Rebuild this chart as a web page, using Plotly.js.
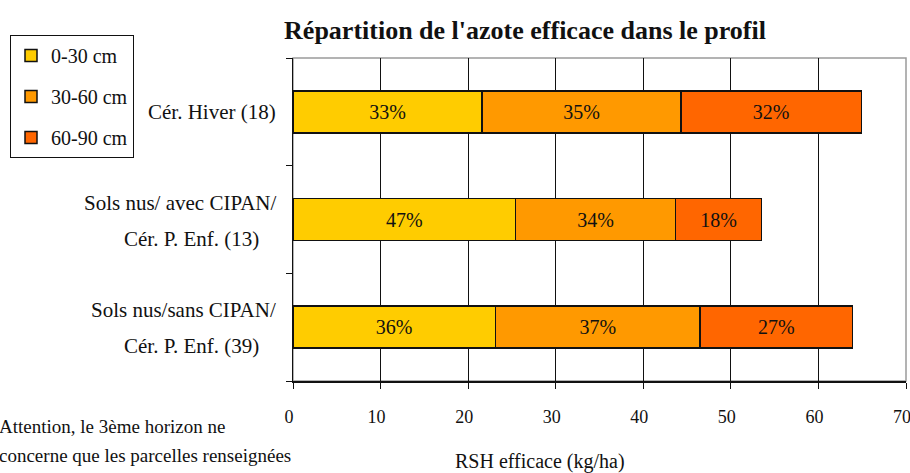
<!DOCTYPE html>
<html>
<head>
<meta charset="utf-8">
<script src="https://cdn.plot.ly/plotly-3.0.1.min.js"></script>
<style>html,body{margin:0;padding:0;background:#fff;}#chart{width:910px;height:473px;}</style>
</head>
<body>
<div id="chart"></div>
<script>
// Categories listed bottom to top
const categories = [
  "Sols nus/sans CIPAN/<br>Cér. P. Enf. (39)",
  "Sols nus/ avec CIPAN/<br>Cér. P. Enf. (13)",
  "Cér. Hiver (18)"
];
const seriesNames = ["0-30 cm", "30-60 cm", "60-90 cm"];
const values_0_30  = [23.1, 25.4, 21.6];
const values_30_60 = [23.4, 18.3, 22.7];
const values_60_90 = [17.4, 9.8, 20.6];
const labels_0_30  = ["36%", "47%", "33%"];
const labels_30_60 = ["37%", "34%", "35%"];
const labels_60_90 = ["27%", "18%", "32%"];
const xTicks = [0, 10, 20, 30, 40, 50, 60, 70];
const titleText = "Répartition de l'azote efficace dans le profil";
const xTitle = "RSH efficace (kg/ha)";
const noteLines = ["Attention, le 3ème horizon ne", "concerne que les parcelles renseignées"];

const colors = ["#FFCC00", "#FF9900", "#FF6600"];
const serif = "Times New Roman, serif";
const L = 293, R = 4, T = 58, B = 92, W = 910, H = 473;
const pw = W - L - R, ph = H - T - B;
const px2x = p => (p - L) / pw;
const py2y = p => (H - B - p) / ph;

const yIdx = categories.map((c, i) => i);
const vals = [values_0_30, values_30_60, values_60_90];
const labs = [labels_0_30, labels_30_60, labels_60_90];

const traces = seriesNames.map((n, k) => ({
  type: "bar",
  orientation: "h",
  name: n,
  legendgroup: "g" + k,
  x: vals[k],
  y: yIdx,
  width: 0.39,
  text: labs[k],
  textposition: "inside",
  insidetextanchor: "middle",
  textangle: 0,
  constraintext: "none",
  textfont: {family: serif, size: 20, color: "#111"},
  marker: {color: colors[k], line: {color: "#111", width: 1.5}},
  hoverinfo: "x+name"
}));

const labFont = {family: serif, size: 21, color: "#111"};
const annotations = [];
categories.forEach((c, i) => {
  const lines = c.split("<br>");
  if (lines.length === 1) {
    annotations.push({xref: "paper", yref: "y", x: px2x(278), y: i, xanchor: "right", yanchor: "middle",
      text: lines[0], showarrow: false, font: labFont});
  } else {
    annotations.push({xref: "paper", yref: "y", x: px2x(278), y: i, yshift: 17, xanchor: "right", yanchor: "middle",
      text: lines[0], showarrow: false, font: labFont});
    annotations.push({xref: "paper", yref: "y", x: px2x(191), y: i, yshift: -19, xanchor: "center", yanchor: "middle",
      text: lines[1], showarrow: false, font: labFont});
  }
});
const noteFont = {family: serif, size: 19, color: "#111"};
annotations.push({xref: "paper", yref: "paper", x: px2x(-3), y: py2y(426), xanchor: "left", yanchor: "middle",
  text: noteLines[0], showarrow: false, font: noteFont});
annotations.push({xref: "paper", yref: "paper", x: px2x(-3), y: py2y(455), xanchor: "left", yanchor: "middle",
  text: noteLines[1], showarrow: false, font: noteFont});
annotations.push({xref: "paper", yref: "paper", x: px2x(540), y: py2y(461), xanchor: "center", yanchor: "middle",
  text: xTitle, showarrow: false, font: {family: serif, size: 20, color: "#111"}});

const layout = {
  width: W, height: H,
  margin: {l: L, r: R, t: T, b: B, pad: 0},
  paper_bgcolor: "#fff", plot_bgcolor: "#fff",
  barmode: "stack",
  bargap: 0.6,
  showlegend: true,
  font: {family: serif, color: "#111"},
  title: {text: "<b>" + titleText + "</b>", font: {family: serif, size: 26, color: "#111"},
    xref: "container", yref: "container", x: 525 / W, y: 1 - 30 / H, xanchor: "center", yanchor: "middle"},
  legend: {
    x: px2x(10), y: py2y(35), xanchor: "left", yanchor: "top",
    bordercolor: "#111", borderwidth: 1, bgcolor: "#fff",
    font: {family: serif, size: 20, color: "#111"},
    traceorder: "grouped", tracegroupgap: 12,
    itemwidth: 30,
    itemclick: false
  },
  xaxis: {
    range: [0, 70], tickvals: xTicks, ticktext: xTicks.map(String),
    showgrid: true, gridcolor: "#111", gridwidth: 1, zeroline: false,
    showline: true, linecolor: "#111", linewidth: 1.5,
    ticks: "outside", ticklen: 6, tickcolor: "#111", tickwidth: 1,
    ticklabelstandoff: 13, ticklabeloverflow: "allow", ticklabelshift: -4,
    tickfont: {family: serif, size: 18, color: "#111"},
    fixedrange: true
  },
  yaxis: {
    range: [-0.5, categories.length - 0.5],
    tickvals: categories.map((c, i) => i - 0.5).concat([categories.length - 0.5]),
    ticktext: categories.map(() => "").concat([""]),
    showgrid: false, zeroline: false,
    showline: true, linecolor: "#111", linewidth: 1.5,
    ticks: "outside", ticklen: 6, tickcolor: "#111", tickwidth: 1,
    fixedrange: true
  },
  shapes: [{type: "rect", xref: "paper", yref: "paper", x0: 0, x1: 1, y0: 0, y1: 1,
    line: {color: "#9a9a9a", width: 1.5}, layer: "below"}],
  annotations: annotations
};

Plotly.newPlot("chart", traces, layout, {displayModeBar: false, staticPlot: true});
</script>
</body>
</html>
